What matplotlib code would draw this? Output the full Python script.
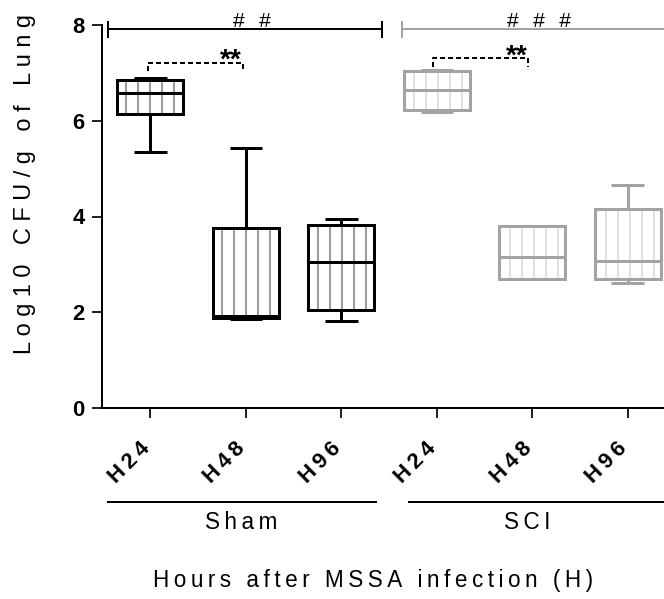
import matplotlib
matplotlib.use("Agg")
import matplotlib.pyplot as plt
import matplotlib.transforms as mtransforms
from matplotlib.patches import PathPatch

# box summaries (log10 CFU/g)
positions = [1, 2, 3, 4, 5, 6]
tick_labels = ["H24", "H48", "H96", "H24", "H48", "H96"]
groups = ["Sham", "SCI"]
mins = [5.35, 1.85, 1.82, 6.19, 2.69, 2.62]
q1s = [6.14, 1.88, 2.05, 6.22, 2.69, 2.69]
medians = [6.58, 1.93, 3.04, 6.64, 3.15, 3.08]
q3s = [6.85, 3.77, 3.82, 7.04, 3.80, 4.16]
maxes = [6.90, 5.44, 3.95, 7.06, 3.80, 4.66]

# significance marks
hash_labels = ["# #", "# # #"]
hash_x = [2.06, 5.07]
group_spans = [(0.56, 3.43), (3.64, 6.45)]
star_pairs = [(0.97, 1.97), (3.96, 4.96)]
star_y = [7.21, 7.31]
star_x = [1.84, 4.84]

BLACK = "#000000"
GREY = "#a3a3a3"
edge_colors = [BLACK, BLACK, BLACK, GREY, GREY, GREY]
hatch_colors = ["#7a7a7a"] * 3 + ["#d6d6d6"] * 3


def spaced(s, gap="\u2009"):
    # Prism style letter spacing
    return gap.join(s)


plt.rcParams["font.family"] = ["Liberation Sans", "DejaVu Sans"]
plt.rcParams["hatch.linewidth"] = 1.5

DPI = 72
fig = plt.figure(figsize=(664 / DPI, 599 / DPI), dpi=DPI)
ax = fig.add_axes([101.7 / 664, 1 - 408 / 599, (664 - 101.7) / 664, 383 / 599])

stats = []
for i in range(len(positions)):
    stats.append(dict(whislo=mins[i], q1=q1s[i], med=medians[i], q3=q3s[i], whishi=maxes[i]))

bp = ax.bxp(stats, positions=positions, widths=0.69, capwidths=0.34,
            patch_artist=True, showfliers=False)

for i, box in enumerate(bp["boxes"]):
    box.set_facecolor("white")
    box.set_edgecolor(hatch_colors[i])
    box.set_linewidth(0)
    box.set_hatch("|")
    box.set_zorder(2)
    ax.add_patch(PathPatch(box.get_path(), fill=False, edgecolor=edge_colors[i],
                           lw=3, zorder=3, joinstyle="miter"))
    bp["medians"][i].set(color=edge_colors[i], lw=3, zorder=4)
    for ln in bp["whiskers"][2 * i:2 * i + 2] + bp["caps"][2 * i:2 * i + 2]:
        ln.set(color=edge_colors[i], lw=3, zorder=1, solid_capstyle="butt")

ax.set_xlim(0.49, 6.38)
ax.set_ylim(0, 8)
ax.set_yticks([0, 2, 4, 6, 8])
ax.set_xticks(positions)
ax.tick_params(axis="y", labelsize=22, length=10, width=1.7, pad=7)
ax.tick_params(axis="x", length=10, width=1.7, pad=20)
ax.set_xticklabels([spaced(t) for t in tick_labels], rotation=45, ha="right", va="top",
                   rotation_mode="anchor", fontsize=22, fontweight="bold")
# pull the slanted labels left so they end under their ticks
shift = mtransforms.ScaledTranslation(-11 / 72, 0, fig.dpi_scale_trans)
for lab in ax.get_xticklabels():
    lab.set_transform(lab.get_transform() + shift)
for lab in ax.get_yticklabels():
    lab.set_fontweight("bold")
for s in ["top", "right"]:
    ax.spines[s].set_visible(False)
for s in ["left", "bottom"]:
    ax.spines[s].set_linewidth(2)

# top brackets with hash marks
for k, (x0, x1) in enumerate(group_spans):
    c = edge_colors[3 * k]
    ax.plot([x0, x1], [7.92, 7.92], color=c, lw=2, clip_on=False)
    ax.plot([x0, x0], [7.75, 8.07], color=c, lw=2, clip_on=False)
    ax.plot([x1, x1], [7.75, 8.07], color=c, lw=2, clip_on=False)
    ax.text(hash_x[k], 7.95, spaced(hash_labels[k]), ha="center", va="baseline",
            fontsize=21, color=BLACK)

# dashed ** brackets
for k, (x0, x1) in enumerate(star_pairs):
    y = star_y[k]
    ax.plot([x0, x0, x1, x1], [y - 0.18, y, y, y - 0.18], color=BLACK, lw=2,
            ls=(0, (2.5, 1.5)), clip_on=False)
    ax.text(star_x[k], y - 0.11, "**", ha="center", va="baseline", fontsize=28,
            fontweight="bold")

# group lines below tick labels
trans = mtransforms.blended_transform_factory(ax.transData, ax.transAxes)
group_lines = [(0.56, 3.36), (3.71, 6.45)]
group_x = [1.95, 4.95]
for k, (x0, x1) in enumerate(group_lines):
    ax.plot([x0, x1], [-0.245, -0.245], color=BLACK, lw=2, transform=trans, clip_on=False)
    ax.text(group_x[k], -0.300, spaced(groups[k]), transform=trans, ha="center",
            va="center", fontsize=22.5)

fig.text(25 / 664, 1 - 184 / 599, spaced("Log10 CFU/g of Lung", " "), rotation=90,
         ha="center", va="center", fontsize=23.5)
fig.text(373 / 664, 1 - 581 / 599, spaced("Hours after MSSA infection (H)"),
         ha="center", va="center", fontsize=22.5)

fig.savefig("out.png", dpi=DPI)
